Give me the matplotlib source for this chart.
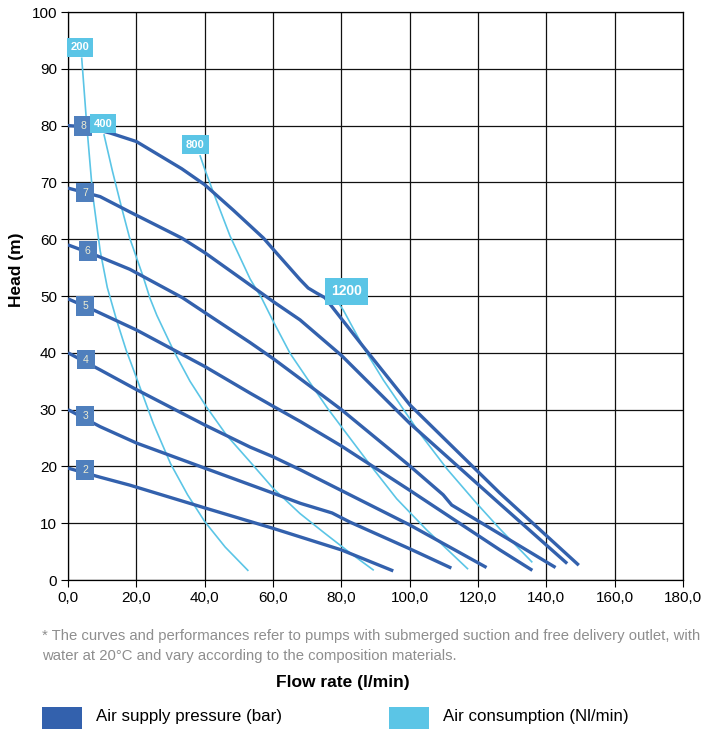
import numpy as np
import matplotlib
matplotlib.use('Agg')
import matplotlib.pyplot as plt
from matplotlib.patches import Rectangle

plt.rcParams['font.family'] = ['Liberation Sans', 'DejaVu Sans']

# pressure curves (bar) - flow rate l/min vs head m
p2_x = [0, 9.4, 18.1, 40, 60, 80, 95.2]
p2_y = [19.7, 18.1, 16.7, 12.7, 9.1, 5.3, 1.6]
p3_x = [0, 9.4, 20.1, 40, 60, 68, 77.3, 82.5, 100, 112.2]
p3_y = [30, 27.0, 24.1, 19.7, 15.3, 13.5, 11.8, 10.2, 5.5, 2.1]
p4_x = [0, 9.4, 20.1, 40, 53.3, 60, 68, 82.5, 100, 122.5]
p4_y = [40, 37.0, 33.5, 27.3, 23.4, 21.7, 19.4, 15.0, 9.7, 2.2]
p5_x = [0, 7.6, 20.1, 40, 53.3, 60, 68, 80, 100, 126.4, 135.9]
p5_y = [49.5, 47.5, 44.0, 37.6, 32.9, 30.6, 27.9, 23.6, 15.8, 5.3, 1.7]
p6_x = [0, 7.6, 18.1, 33.5, 40, 53.3, 60, 67.6, 80, 100, 109.8, 112.3, 142.7]
p6_y = [59, 57.3, 54.7, 49.7, 47.1, 41.8, 39.0, 35.6, 30.0, 20.1, 15.0, 13.2, 2.2]
p7_x = [0, 9.4, 18.1, 33.3, 40.1, 51.3, 60.1, 67.9, 80.1, 100, 126.4, 146.1]
p7_y = [69, 67.5, 64.8, 60.2, 57.6, 52.8, 49.0, 45.8, 39.5, 27.6, 13.4, 2.9]
p8_x = [0, 5, 12.3, 20, 33.3, 40, 48.4, 57.2, 60.1, 67.9, 70.3, 72.8, 75.2, 86.4, 100.1, 126.4, 149.5]
p8_y = [80, 79.8, 78.7, 77.2, 72.4, 69.6, 65.1, 60.2, 58.2, 52.9, 51.4, 50.5, 49.7, 41.1, 30.8, 15.3, 2.6]

# air consumption curves (Nl/min)
a200_x = [4, 5.5, 7.2, 9.4, 11.5, 14.2, 17, 20.1, 25, 30, 35, 40, 46, 52.8]
a200_y = [92, 80, 68, 58, 51.5, 45.8, 40.5, 35.5, 27.5, 20.5, 15, 10.3, 5.8, 1.6]
a400_x = [10.5, 13, 15.5, 18, 22, 24, 26, 30.8, 35.7, 40.5, 46.4, 53.3, 60.1, 67.9, 75, 82.5, 89.5]
a400_y = [78.5, 72, 66, 60.3, 53.4, 49.6, 46.6, 40.5, 35, 30.5, 25.5, 20.8, 16.1, 11.7, 8.3, 4.8, 1.7]
a800_x = [38.6, 40.1, 42.5, 47.4, 53.3, 56.7, 60.1, 65, 70.3, 76, 82.5, 88.9, 96.2, 105, 117.1]
a800_y = [74.8, 72.2, 68.3, 60.6, 53, 49.6, 45.5, 39.9, 35.2, 30.2, 25, 19.9, 14.3, 8.8, 1.9]
a1200_x = [78.3, 80.6, 86.9, 92.3, 103, 111, 119.6, 126.4, 135.9]
a1200_y = [49.5, 47.5, 40.5, 35.2, 25.8, 19.5, 13.5, 9.0, 3.1]

pressure_labels = ['2', '3', '4', '5', '6', '7', '8']
pressure_lab_x = [5.0, 5.0, 5.3, 5.0, 5.8, 5.0, 4.5]
pressure_lab_y = [19.4, 28.9, 38.8, 48.2, 57.9, 68.2, 79.9]
air_labels = ['200', '400', '800', '1200']
air_lab_x = [3.5, 10.3, 37.3, 81.6]
air_lab_y = [93.75, 80.3, 76.6, 50.8]

x_ticks = [0, 20, 40, 60, 80, 100, 120, 140, 160, 180]
x_ticklabels = ['0,0', '20,0', '40,0', '60,0', '80,0', '100,0', '120,0', '140,0', '160,0', '180,0']
y_ticks = [0, 10, 20, 30, 40, 50, 60, 70, 80, 90, 100]

dark = '#3361ad'
light = '#5bc5e6'
labfill = '#4f7fbd'

W, H = 701, 729
fig = plt.figure(figsize=(W / 100, H / 100), dpi=100)
ax = fig.add_axes([68 / W, 1 - 580 / H, 615 / W, 568 / H])
ax.set_xlim(0, 180)
ax.set_ylim(0, 100)
ax.set_xticks(x_ticks)
ax.set_xticklabels(x_ticklabels)
ax.set_yticks(y_ticks)
ax.tick_params(labelsize=11, length=5, width=0.8, color='black', pad=3)
ax.grid(True, color='#111111', linewidth=0.9)
ax.set_axisbelow(True)
for s in ax.spines.values():
    s.set_color('black')
    s.set_linewidth(0.9)

for xs, ys in [(a200_x, a200_y), (a400_x, a400_y), (a800_x, a800_y), (a1200_x, a1200_y)]:
    ax.plot(xs, ys, color=light, lw=1.2, zorder=3, solid_capstyle='butt')
for xs, ys in [(p2_x, p2_y), (p3_x, p3_y), (p4_x, p4_y), (p5_x, p5_y),
               (p6_x, p6_y), (p7_x, p7_y), (p8_x, p8_y)]:
    ax.plot(xs, ys, color=dark, lw=2.4, zorder=4, solid_capstyle='butt', solid_joinstyle='round')

xs_px = 615 / 180.0
ys_px = 568 / 100.0


def box_label(x, y, txt, wpx, hpx, fc, tc, fs, weight):
    w = wpx / xs_px
    h = hpx / ys_px
    ax.add_patch(Rectangle((x - w / 2, y - h / 2), w, h, facecolor=fc, edgecolor='none',
                           zorder=6, clip_on=False))
    ax.text(x, y, txt, ha='center', va='center', color=tc, fontsize=fs,
            fontweight=weight, zorder=7, clip_on=False)


for t, x, y in zip(pressure_labels, pressure_lab_x, pressure_lab_y):
    box_label(x, y, t, 18, 19.5, labfill, '#ecebd2', 7.5, 'normal')
for t, x, y in zip(air_labels, air_lab_x, air_lab_y):
    if t == '1200':
        box_label(x, y, t, 43, 27, light, 'white', 10, 'bold')
    else:
        box_label(x, y, t, 26.5, 19, light, 'white', 8, 'bold')

fig.text(16.5 / W, 1 - 270 / H, 'Head (m)', fontsize=12.5, fontweight='bold',
         rotation=90, ha='center', va='center')

note1 = '* The curves and performances refer to pumps with submerged suction and free delivery outlet, with'
note2 = 'water at 20\u00b0C and vary according to the composition materials.'
fig.text(42 / W, 1 - 636 / H, note1, fontsize=10.7, color='#8e8e8e', va='center')
fig.text(42 / W, 1 - 656 / H, note2, fontsize=10.7, color='#8e8e8e', va='center')

fig.text(343 / W, 1 - 683 / H, 'Flow rate (l/min)', fontsize=12.5, fontweight='bold', ha='center', va='center')

fig.patches.append(Rectangle((42 / W, 0), 40 / W, 22 / H, transform=fig.transFigure,
                             facecolor=dark, edgecolor='none'))
fig.patches.append(Rectangle((389 / W, 0), 40 / W, 22 / H, transform=fig.transFigure,
                             facecolor=light, edgecolor='none'))
fig.text(96 / W, 1 - 716 / H, 'Air supply pressure (bar)', fontsize=12.2, va='center')
fig.text(443 / W, 1 - 716 / H, 'Air consumption (Nl/min)', fontsize=12.2, va='center')

fig.savefig('out.png', dpi=100)
